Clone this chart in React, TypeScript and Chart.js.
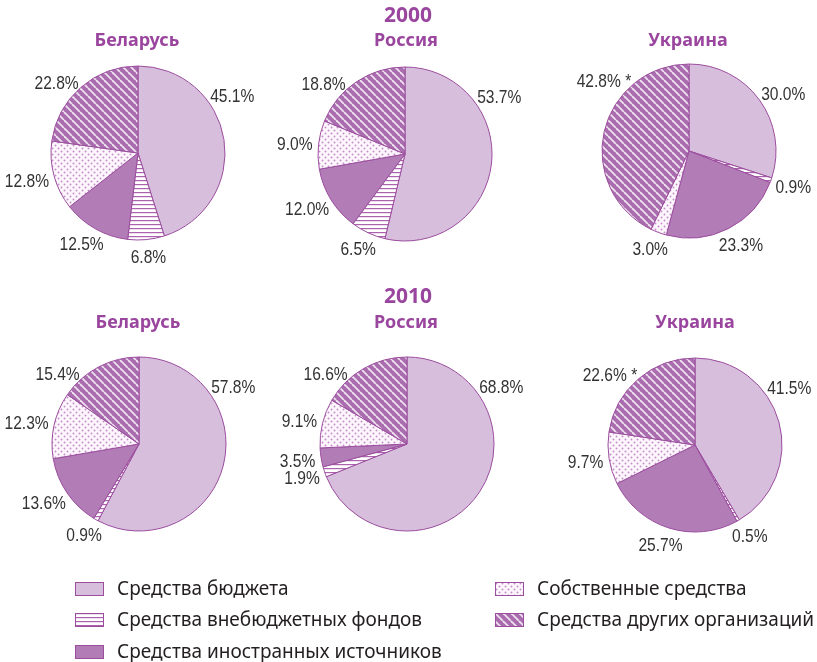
import React, { useEffect, useRef } from "react";
import { Chart, registerables } from "chart.js";
Chart.register(...registerables);

// ---------- data ----------
const categories = [
  "Средства бюджета",
  "Средства внебюджетных фондов",
  "Средства иностранных источников",
  "Собственные средства",
  "Средства других организаций",
];
const years = ["2000", "2010"];
const countries = ["Беларусь", "Россия", "Украина"];

const belarus2000 = [45.1, 6.8, 12.5, 12.8, 22.8];
const russia2000 = [53.7, 6.5, 12.0, 9.0, 18.8];
const ukraine2000 = [30.0, 0.9, 23.3, 3.0, 42.8];
const belarus2010 = [57.8, 0.9, 13.6, 12.3, 15.4];
const russia2010 = [68.8, 1.9, 3.5, 9.1, 16.6];
const ukraine2010 = [41.5, 0.5, 25.7, 9.7, 22.6];

const noNotes = ["", "", "", "", ""];
const ukraineNotes = ["", "", "", "", " *"];

// ---------- layout / style ----------
const W = 817;
const H = 662;
const RADIUS = 87;
const BORDER = "#9b4d9e";
const TITLE_COLOR = "#9a459e";
const TEXT_COLOR = "#333333";
const LABEL_SIZE = 19;
const LABEL_FONT = LABEL_SIZE + 'px "Liberation Sans", Arial, sans-serif';
const LABEL_SQUEEZE = 0.82;

const pies = [
  { values: belarus2000, notes: noNotes, cx: 138, cy: 153 },
  { values: russia2000, notes: noNotes, cx: 405, cy: 154 },
  { values: ukraine2000, notes: ukraineNotes, cx: 689, cy: 151 },
  { values: belarus2010, notes: noNotes, cx: 139, cy: 444 },
  { values: russia2010, notes: noNotes, cx: 407, cy: 444 },
  { values: ukraine2010, notes: ukraineNotes, cx: 695, cy: 445 },
];

const yearTitles = [
  { text: years[0], x: 408, top: 4 },
  { text: years[1], x: 408, top: 285 },
];
const countryTitles = [
  { text: countries[0], x: 137, top: 30 },
  { text: countries[1], x: 406, top: 30 },
  { text: countries[2], x: 688, top: 30 },
  { text: countries[0], x: 138, top: 312 },
  { text: countries[1], x: 406, top: 312 },
  { text: countries[2], x: 695, top: 312 },
];

const legendItems = [
  { cat: 0, sx: 75, sy: 582, tx: 117 },
  { cat: 1, sx: 75, sy: 613, tx: 117 },
  { cat: 2, sx: 75, sy: 645, tx: 117 },
  { cat: 3, sx: 495, sy: 582, tx: 537 },
  { cat: 4, sx: 495, sy: 613, tx: 537 },
];

// ---------- patterns ----------
function makeTile(kind: number): HTMLCanvasElement | null {
  const c = document.createElement("canvas");
  const g = c.getContext("2d")!;
  if (kind === 1) {
    c.width = 4; c.height = 4;
    g.fillStyle = "#ffffff"; g.fillRect(0, 0, 4, 4);
    g.fillStyle = "#ac62af"; g.fillRect(0, 0, 4, 1.2);
    return c;
  }
  if (kind === 3) {
    c.width = 6; c.height = 6;
    g.fillStyle = "#fdf7fd"; g.fillRect(0, 0, 6, 6);
    g.fillStyle = "#c38ec7";
    g.beginPath(); g.arc(1.5, 1.5, 0.95, 0, Math.PI * 2); g.fill();
    g.beginPath(); g.arc(4.5, 4.5, 0.95, 0, Math.PI * 2); g.fill();
    return c;
  }
  if (kind === 4) {
    const s = 8;
    c.width = s; c.height = s;
    g.fillStyle = "#a96cae"; g.fillRect(0, 0, s, s);
    g.strokeStyle = "#efe2f0"; g.lineWidth = 1.8;
    for (let k = -1; k <= 1; k++) {
      g.beginPath(); g.moveTo(k * s, 0); g.lineTo(k * s + s, s); g.stroke();
    }
    return c;
  }
  return null;
}

function fillFor(ctx: CanvasRenderingContext2D, kind: number): string | CanvasPattern {
  if (kind === 0) return "#d7bedc";
  if (kind === 2) return "#b27cb7";
  const tile = makeTile(kind)!;
  return ctx.createPattern(tile, "repeat")!;
}

// ---------- label plugin ----------
const sliceLabels = {
  id: "sliceLabels",
  afterDatasetsDraw(chart: any, _args: any, opts: any) {
    const ctx = chart.ctx as CanvasRenderingContext2D;
    const meta = chart.getDatasetMeta(0);
    const data = chart.data.datasets[0].data as number[];
    const n = meta.data.length;
    ctx.save();
    ctx.font = LABEL_FONT;
    ctx.fillStyle = TEXT_COLOR;
    ctx.textAlign = "center";
    ctx.textBaseline = "alphabetic";
    const capH = LABEL_SIZE * 0.72;
    meta.data.forEach((arc: any, i: number) => {
      const p = arc.getProps(["x", "y", "startAngle", "endAngle", "outerRadius"], true);
      let ang = (p.startAngle + p.endAngle) / 2;
      if (i === 0) ang = ((opts.firstAngle - 90) * Math.PI) / 180;
      if (i === n - 1) ang = ((opts.lastAngle - 90) * Math.PI) / 180;
      const text = data[i].toFixed(1) + "%" + (opts.notes[i] || "");
      const w = ctx.measureText(text).width * LABEL_SQUEEZE;
      const cos = Math.cos(ang);
      const sin = Math.sin(ang);
      const ax = p.x + (p.outerRadius + opts.gap) * cos;
      const ay = p.y + (p.outerRadius + opts.gap) * sin;
      const tx = ax + (w / 2) * cos;
      const ty = ay + (capH / 2 + 1) * sin + (sin > 0 ? 3 * sin : 0);
      ctx.save();
      ctx.translate(tx, ty + capH / 2);
      ctx.scale(LABEL_SQUEEZE, 1);
      ctx.fillText(text, 0, 0);
      ctx.restore();
    });
    ctx.restore();
  },
};

function Pie({ values, notes, cx, cy }: { values: number[]; notes: string[]; cx: number; cy: number }) {
  const ref = useRef<HTMLCanvasElement>(null);
  useEffect(() => {
    const canvas = ref.current!;
    const ctx = canvas.getContext("2d")!;
    const fills = categories.map((_, i) => fillFor(ctx, i));
    const chart = new Chart(canvas, {
      type: "pie",
      data: {
        labels: categories,
        datasets: [
          {
            data: values,
            backgroundColor: fills as any,
            borderColor: BORDER,
            borderWidth: 1,
          },
        ],
      },
      options: {
        responsive: false,
        animation: false,
        devicePixelRatio: 1,
        radius: RADIUS,
        events: [],
        layout: {
          padding: { left: cx - 100, right: W - cx - 100, top: cy - 100, bottom: H - cy - 100 },
        },
        plugins: {
          legend: { display: false },
          tooltip: { enabled: false },
          title: { display: false },
          sliceLabels: { notes, firstAngle: 55, lastAngle: 315, gap: 6 },
        } as any,
      } as any,
      plugins: [sliceLabels as any],
    });
    return () => chart.destroy();
  }, []);
  return (
    <canvas
      ref={ref}
      width={W}
      height={H}
      style={{ position: "absolute", left: 0, top: 0, width: W, height: H }}
    />
  );
}

function Swatch({ kind, x, y }: { kind: number; x: number; y: number }) {
  const ref = useRef<HTMLCanvasElement>(null);
  useEffect(() => {
    const c = ref.current!;
    const g = c.getContext("2d")!;
    g.clearRect(0, 0, c.width, c.height);
    g.fillStyle = fillFor(g, kind) as any;
    g.fillRect(0, 0, c.width, c.height);
    g.strokeStyle = BORDER;
    g.lineWidth = 1;
    g.strokeRect(0.5, 0.5, c.width - 1, c.height - 1);
  }, []);
  return <canvas ref={ref} width={29} height={14} style={{ position: "absolute", left: x, top: y }} />;
}

export default function App() {
  return (
    <div
      style={{
        position: "absolute",
        left: 0,
        top: 0,
        width: W,
        height: H,
        overflow: "hidden",
        background: "#ffffff",
      }}
    >
      {pies.map((p, i) => (
        <Pie key={i} values={p.values} notes={p.notes} cx={p.cx} cy={p.cy} />
      ))}
      {yearTitles.map((t, i) => (
        <div
          key={"y" + i}
          style={{
            position: "absolute",
            left: t.x,
            top: t.top,
            transform: "translateX(-50%)",
            font: 'bold 21px "Noto Sans", sans-serif',
            lineHeight: "1",
            color: TITLE_COLOR,
            whiteSpace: "nowrap",
          }}
        >
          {t.text}
        </div>
      ))}
      {countryTitles.map((t, i) => (
        <div
          key={"c" + i}
          style={{
            position: "absolute",
            left: t.x,
            top: t.top,
            transform: "translateX(-50%)",
            font: 'bold 18px "Noto Sans", sans-serif',
            lineHeight: "1",
            color: TITLE_COLOR,
            whiteSpace: "nowrap",
          }}
        >
          {t.text}
        </div>
      ))}
      {legendItems.map((l, i) => (
        <React.Fragment key={"l" + i}>
          <Swatch kind={l.cat} x={l.sx} y={l.sy} />
          <div
            style={{
              position: "absolute",
              left: l.tx,
              top: l.sy - 3,
              font: '19px "Noto Sans", sans-serif',
              lineHeight: "1",
              color: "#231f20",
              whiteSpace: "nowrap",
            }}
          >
            {categories[l.cat]}
          </div>
        </React.Fragment>
      ))}
    </div>
  );
}
